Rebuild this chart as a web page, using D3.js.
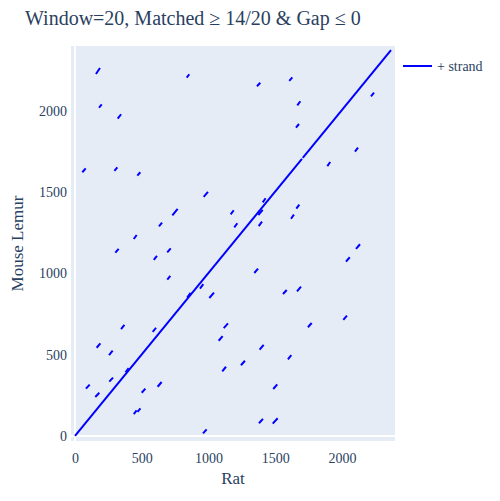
<!DOCTYPE html>
<html>
<head>
<meta charset="utf-8">
<script src="https://cdn.jsdelivr.net/npm/d3@7"></script>
<style>
  body { margin: 0; background: #fff; }
  text { font-family: "Liberation Serif", "Times New Roman", serif; fill: #2a3f5f; }
</style>
</head>
<body>
<svg id="chart"></svg>
<script>
// matched windows: rat position range -> mouse lemur position range
const ratStart   = [0, 1706, 157, 837, 180, 320, 55, 295, 467, 964, 729, 629, 440, 1363, 1605, 1665, 1655, 2217, 2097, 1890, 1166, 1193, 1406, 1373, 1376, 1658, 1618, 302, 590, 691, 691, 936, 1006, 840, 345, 582, 162, 255, 378, 257, 82, 152, 500, 619, 440, 468, 959, 1114, 1076, 1103, 2105, 2030, 1343, 1558, 1663, 1745, 2010, 1383, 1595, 1243, 1485, 1378, 1481];
const ratEnd     = [1700, 2367, 187, 856, 200, 345, 80, 317, 489, 996, 769, 652, 462, 1388, 1628, 1688, 1678, 2240, 2120, 1912, 1189, 1216, 1428, 1406, 1401, 1680, 1640, 327, 614, 717, 714, 961, 1041, 866, 370, 607, 190, 282, 402, 285, 110, 182, 527, 649, 462, 490, 986, 1146, 1106, 1131, 2135, 2058, 1371, 1586, 1693, 1773, 2037, 1413, 1620, 1273, 1515, 1408, 1518];
const lemurStart = [0, 1712, 2228, 2205, 2020, 1953, 1623, 1631, 1602, 1471, 1358, 1290, 1212, 2152, 2185, 2035, 1897, 2090, 1750, 1661, 1364, 1284, 1438, 1360, 1292, 1399, 1337, 1128, 1083, 1130, 962, 907, 849, 852, 657, 640, 543, 498, 392, 334, 291, 240, 266, 303, 135, 148, 16, 664, 586, 398, 1151, 1073, 1003, 874, 890, 669, 714, 531, 472, 435, 289, 78, 76];
const lemurEnd   = [1706, 2375, 2265, 2226, 2041, 1980, 1647, 1653, 1623, 1502, 1397, 1313, 1237, 2174, 2207, 2060, 1920, 2113, 1774, 1686, 1389, 1309, 1463, 1391, 1319, 1424, 1362, 1152, 1108, 1155, 985, 934, 882, 880, 683, 666, 570, 525, 418, 359, 316, 266, 291, 332, 157, 170, 41, 693, 615, 426, 1180, 1100, 1030, 898, 919, 695, 740, 560, 497, 463, 318, 105, 109];

const xTicks = [0, 500, 1000, 1500, 2000];
const yTicks = [0, 500, 1000, 1500, 2000];

const width = 500;
const height = 501;
const plot = { left: 71, right: 395, top: 46, bottom: 441 };
const serif = '"Liberation Serif", "Times New Roman", serif';
const textColor = '#2a3f5f';

const svg = d3.select('#chart')
    .attr('width', width)
    .attr('height', height);

const xScale = d3.scaleLinear()
    .domain([-30, 2397])
    .range([plot.left, plot.right]);

const yScale = d3.scaleLinear()
    .domain([-31, 2400])
    .range([plot.bottom, plot.top]);

svg.append('rect')
    .attr('x', plot.left)
    .attr('y', plot.top)
    .attr('width', plot.right - plot.left)
    .attr('height', plot.bottom - plot.top)
    .attr('fill', '#e5ecf6');

// zero lines
svg.append('line')
    .attr('x1', xScale(0)).attr('x2', xScale(0))
    .attr('y1', plot.top).attr('y2', plot.bottom)
    .attr('stroke', '#fff').attr('stroke-width', 2);
svg.append('line')
    .attr('x1', plot.left).attr('x2', plot.right)
    .attr('y1', yScale(0)).attr('y2', yScale(0))
    .attr('stroke', '#fff').attr('stroke-width', 2);

const xAxis = d3.axisBottom(xScale).tickValues(xTicks).tickFormat(d3.format('d')).tickSize(0).tickPadding(12);
svg.append('g')
    .attr('transform', 'translate(0,' + plot.bottom + ')')
    .call(xAxis)
    .attr('font-family', serif)
    .call(g => g.select('.domain').remove())
    .selectAll('text')
    .style('font-family', serif)
    .style('font-size', '14px')
    .style('fill', textColor);

const yAxis = d3.axisLeft(yScale).tickValues(yTicks).tickFormat(d3.format('d')).tickSize(0).tickPadding(4);
svg.append('g')
    .attr('transform', 'translate(' + plot.left + ',0)')
    .call(yAxis)
    .attr('font-family', serif)
    .call(g => g.select('.domain').remove())
    .selectAll('text')
    .style('font-family', serif)
    .style('font-size', '14px')
    .style('fill', textColor);

const segments = ratStart.map((d, i) => [ratStart[i], lemurStart[i], ratEnd[i], lemurEnd[i]]);

svg.append('g')
    .selectAll('line')
    .data(segments)
    .enter()
    .append('line')
    .attr('x1', d => xScale(d[0]))
    .attr('y1', d => yScale(d[1]))
    .attr('x2', d => xScale(d[2]))
    .attr('y2', d => yScale(d[3]))
    .attr('stroke', '#0000ff')
    .attr('stroke-width', 2);

svg.append('text')
    .attr('x', 25)
    .attr('y', 25)
    .style('font-size', '20px')
    .text('Window=20, Matched \u2265 14/20 & Gap \u2264 0');

svg.append('text')
    .attr('x', (plot.left + plot.right) / 2)
    .attr('y', 484)
    .attr('text-anchor', 'middle')
    .style('font-size', '17px')
    .text('Rat');

svg.append('text')
    .attr('transform', 'translate(23,' + ((plot.top + plot.bottom) / 2) + ') rotate(-90)')
    .attr('text-anchor', 'middle')
    .style('font-size', '17px')
    .text('Mouse Lemur');

// legend
svg.append('line')
    .attr('x1', 403).attr('x2', 432)
    .attr('y1', 66).attr('y2', 66)
    .attr('stroke', '#0000ff').attr('stroke-width', 2);
svg.append('text')
    .attr('x', 437)
    .attr('y', 71)
    .style('font-size', '14px')
    .text('+ strand');
</script>
</body>
</html>
